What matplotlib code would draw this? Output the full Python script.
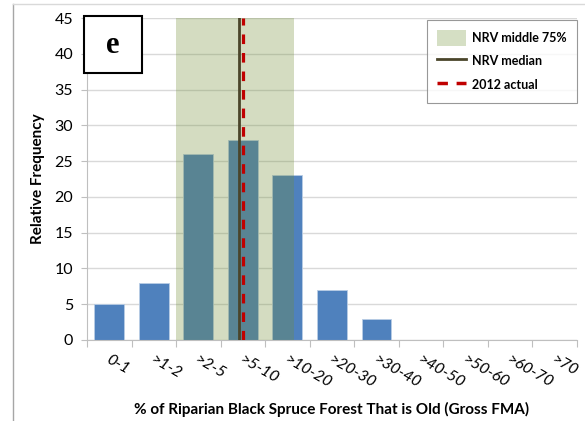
import matplotlib
matplotlib.use('Agg')
import matplotlib.pyplot as plt
from matplotlib.patches import Patch, Rectangle
from matplotlib.lines import Line2D

# Data
categories = ['0-1', '>1-2', '>2-5', '>5-10', '>10-20', '>20-30', '>30-40',
              '>40-50', '>50-60', '>60-70', '>70']
frequency = [5, 8, 26, 28, 23, 7, 3, 0, 0, 0, 0]
nrv_range = [1.5, 4.15]   # middle 75% in category units
nrv_median = 2.92
actual_2012 = 3.0

plt.rcParams['font.family'] = ['Lato', 'DejaVu Sans']

fig = plt.figure(figsize=(5.85, 4.21), dpi=100)
ax = fig.add_axes([0.1487, 0.1924, 0.8373, 0.7648])

x = list(range(len(categories)))
ax.bar(x, frequency, width=0.67, color='#4F81BD', edgecolor='#B9CDE5',
       linewidth=0.6, zorder=2)
ax.axvspan(nrv_range[0], nrv_range[1], color='#728D34', alpha=0.3,
           linewidth=0, zorder=3)
ax.axvline(nrv_median, color='#4A452A', linewidth=2, zorder=4)
ax.axvline(actual_2012, color='#C00000', linewidth=2.3, linestyle=(0, (3, 2.8)),
           zorder=5)

ax.set_xlim(-0.5, len(categories) - 0.5)
ax.set_ylim(0, 45)
ax.set_yticks(range(0, 46, 5))
ax.yaxis.grid(True, color='#D9D9D9', linewidth=1)
ax.set_axisbelow(True)
for s in ['top', 'right']:
    ax.spines[s].set_visible(False)
ax.spines['left'].set_color('#BFBFBF')
ax.spines['bottom'].set_color('#BFBFBF')
ax.tick_params(axis='y', labelsize=11.5, length=4, color='#BFBFBF', pad=6)

# category boundary ticks and rotated labels
ax.set_xticks([i - 0.5 for i in range(len(categories) + 1)])
ax.set_xticklabels([])
ax.tick_params(axis='x', length=5, color='#BFBFBF')
for i, lab in enumerate(categories):
    ax.text(i - 0.05, -2.6, lab, rotation=-30, rotation_mode='anchor',
            ha='left', va='center', fontsize=11.5, style='italic')

ax.set_ylabel('Relative Frequency', fontsize=11, fontweight='bold', labelpad=7)
ax.set_xlabel('% of Riparian Black Spruce Forest That is Old (Gross FMA)',
              fontsize=11, fontweight='bold', labelpad=36)

handles = [Patch(facecolor='#D5DFC4', edgecolor='none'),
           Line2D([], [], color='#4A452A', linewidth=2),
           Line2D([], [], color='#C00000', linewidth=2.5, linestyle=(0, (3, 2.5)))]
labels = ['NRV middle 75%', 'NRV median', '2012 actual']
leg = ax.legend(handles, labels, loc='upper right', bbox_to_anchor=(1.0, 0.995),
                borderaxespad=0, frameon=True, fancybox=False, edgecolor='#7F7F7F',
                prop={'weight': 'bold', 'size': 9}, borderpad=0.8,
                handlelength=2.3, handleheight=1.6, labelspacing=0.6,
                handletextpad=0.5)
leg.get_frame().set_linewidth(0.8)

# panel letter box
ax.add_patch(Rectangle((-0.006, 0.829), 0.118, 0.177, transform=ax.transAxes,
                       facecolor='white', edgecolor='black', linewidth=1.5,
                       zorder=10, clip_on=False))
ax.text(0.053, 0.915, 'e', transform=ax.transAxes, ha='center', va='center',
        fontsize=22, fontweight='bold', family='Liberation Serif', zorder=11)

# outer frame lines
fig.add_artist(Line2D([13 / 585, 13 / 585], [0, 1 - 4 / 421], color='#A6A6A6', linewidth=1))
fig.add_artist(Line2D([13 / 585, 1], [1 - 4 / 421, 1 - 4 / 421], color='#D9D9D9', linewidth=1))

fig.savefig('out.png', dpi=100)
